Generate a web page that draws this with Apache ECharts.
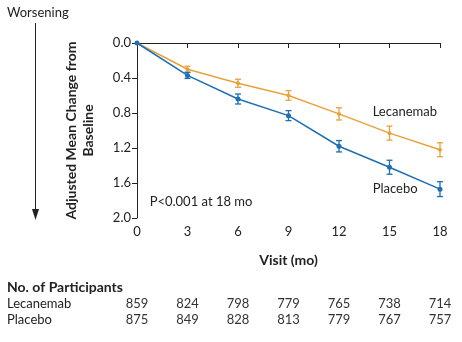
<!DOCTYPE html>
<html><head><meta charset="utf-8">
<script src="https://cdn.jsdelivr.net/npm/echarts@6/dist/echarts.min.js"></script>
<style>html,body{margin:0;padding:0;background:#fff}#c{width:462px;height:342px}</style>
</head><body><div id="c"></div>
<script>
const months = [0, 3, 6, 9, 12, 15, 18];
const lecanemab = [0, 0.30, 0.46, 0.60, 0.81, 1.03, 1.22];
const lecanemabErr = [0, 0.035, 0.046, 0.055, 0.07, 0.08, 0.08];
const placebo = [0, 0.37, 0.64, 0.83, 1.18, 1.42, 1.67];
const placeboErr = [0, 0.035, 0.057, 0.057, 0.065, 0.08, 0.085];
const yTicks = [0, 0.4, 0.8, 1.2, 1.6, 2.0];
const nLecanemab = [859, 824, 798, 779, 765, 738, 714];
const nPlacebo = [875, 849, 828, 813, 779, 767, 757];

const ORANGE = '#E9A23B', BLUE = '#1E6FB3';
const FONT = 'Lato';

function errSeries(vals, errs, color) {
  return {
    type: 'custom', silent: true, z: 3,
    data: months.map((m, i) => [m, vals[i] - errs[i], vals[i] + errs[i]]).filter((d, i) => errs[i] > 0),
    renderItem: function (params, api) {
      const lo = api.coord([api.value(0), api.value(1)]);
      const hi = api.coord([api.value(0), api.value(2)]);
      const w = 3;
      const st = { stroke: color, lineWidth: 1.3 };
      return { type: 'group', children: [
        { type: 'line', shape: { x1: lo[0], y1: lo[1], x2: hi[0], y2: hi[1] }, style: st },
        { type: 'line', shape: { x1: lo[0] - w, y1: lo[1], x2: lo[0] + w, y2: lo[1] }, style: st },
        { type: 'line', shape: { x1: hi[0] - w, y1: hi[1], x2: hi[0] + w, y2: hi[1] }, style: st }
      ]};
    }
  };
}

const chart = echarts.init(document.getElementById('c'), null, { renderer: 'canvas' });
chart.setOption({
  animation: false,
  textStyle: { fontFamily: FONT },
  grid: { left: 137, right: 22, top: 43, bottom: 124 },
  xAxis: {
    type: 'value', min: 0, max: 18, interval: 3,
    name: 'Visit (mo)', nameLocation: 'middle', nameGap: 35,
    nameTextStyle: { fontFamily: FONT, fontWeight: 'bold', fontSize: 14, color: '#222' },
    axisLine: { lineStyle: { color: '#222', width: 1 } },
    axisTick: { length: 5, lineStyle: { color: '#222' } },
    axisLabel: { fontFamily: FONT, fontSize: 13, color: '#222', margin: 7 },
    splitLine: { show: false }
  },
  yAxis: {
    type: 'value', min: 0, max: 2, interval: 0.4, inverse: true,
    name: 'Adjusted Mean Change from\nBaseline', nameLocation: 'middle', nameGap: 40, nameRotate: 90,
    nameTextStyle: { fontFamily: FONT, fontWeight: 'bold', fontSize: 14, color: '#222', lineHeight: 17 },
    axisLine: { show: true, lineStyle: { color: '#222', width: 1 } },
    axisTick: { show: true, length: 5, lineStyle: { color: '#222' } },
    axisLabel: { fontFamily: FONT, fontSize: 13, color: '#222', margin: 6, formatter: v => v.toFixed(1) },
    splitLine: { show: false }
  },
  series: [
    { type: 'line', name: 'Lecanemab', data: months.map((m, i) => [m, lecanemab[i]]),
      symbol: 'circle', symbolSize: 4, lineStyle: { color: ORANGE, width: 1.5 }, itemStyle: { color: ORANGE }, z: 4 },
    { type: 'line', name: 'Placebo', data: months.map((m, i) => [m, placebo[i]]),
      symbol: 'circle', symbolSize: 5, lineStyle: { color: BLUE, width: 1.5 }, itemStyle: { color: BLUE }, z: 5 },
    errSeries(lecanemab, lecanemabErr, ORANGE),
    errSeries(placebo, placeboErr, BLUE)
  ]
});

const px = (x, y) => chart.convertToPixel({ gridIndex: 0 }, [x, y]);
const g = [];
const txt = (x, y, text, opt) => g.push({ type: 'text', x: x, y: y, style: Object.assign({ text: text, fill: '#222', font: '13px ' + FONT, textVerticalAlign: 'middle' }, opt || {}) });

// annotations
let p = px(14, 0.79); txt(p[0], p[1], 'Lecanemab', { font: '13px ' + FONT });
p = px(14, 1.67); txt(p[0], p[1], 'Placebo', { font: '13px ' + FONT });
p = px(0.75, 1.82); txt(p[0], p[1], 'P<0.001 at 18 mo', { font: '13px ' + FONT });

// Worsening arrow
txt(7, 13, 'Worsening', { font: '13px ' + FONT });
g.push({ type: 'line', shape: { x1: 35.5, y1: 23, x2: 35.5, y2: 212 }, style: { stroke: '#222', lineWidth: 1 } });
g.push({ type: 'polygon', shape: { points: [[32, 209], [39, 209], [35.5, 220]] }, style: { fill: '#222' } });

// participants table
txt(7, 287, 'No. of Participants', { font: 'bold 14px ' + FONT });
txt(7, 304, 'Lecanemab', { font: '13px ' + FONT });
txt(7, 320, 'Placebo', { font: '13px ' + FONT });
months.forEach((m, i) => {
  const q = px(m, 0);
  txt(q[0], 304, String(nLecanemab[i]), { textAlign: 'center', font: '13px ' + FONT, fill: '#333' });
  txt(q[0], 320, String(nPlacebo[i]), { textAlign: 'center', font: '13px ' + FONT, fill: '#333' });
});
chart.setOption({ graphic: g });
</script></body></html>
